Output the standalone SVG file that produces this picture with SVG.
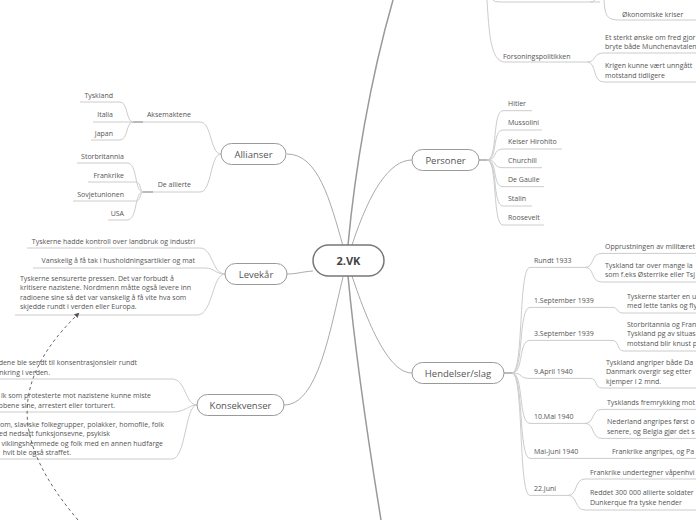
<svg xmlns="http://www.w3.org/2000/svg" width="696" height="520" viewBox="0 0 696 520">
<defs>
<style>
.t{font-family:"Open Sans","Liberation Sans",sans-serif;font-size:7px;fill:#555}
.e{text-anchor:end}
.n{font-family:"Open Sans","Liberation Sans",sans-serif;font-size:9.5px;fill:#555;text-anchor:middle}
.box{fill:#fff;stroke:#999;stroke-width:1}
.c{fill:none;stroke:#ccc;stroke-width:1}
.j{fill:none;stroke:#aaa;stroke-width:1.6}
.m{fill:none;stroke:#aaa;stroke-width:1}
.big{fill:none;stroke:#999;stroke-width:1.5}
.rel{fill:none;stroke:#666;stroke-width:1;stroke-dasharray:3 3}
</style>
<marker id="arr" viewBox="0 0 10 10" refX="9" refY="5" markerWidth="5" markerHeight="5" orient="auto">
<path d="M0,0 L10,5 L0,10 z" fill="#555"/>
</marker>
</defs>
<rect width="696" height="520" fill="#fff"/>
<g id="connectors">
<path class="big" d="M348,245 C355,170 370,80 393,0"/>
<path class="big" d="M348,276 C355,350 368,440 381,520"/>
<path class="m" d="M343,246 C330,200 318,154 287,154"/>
<path class="m" d="M352,245 C370,190 390,160 412,160"/>
<path class="m" d="M313,271 C300,272 297,274 287,274"/>
<path class="m" d="M343,277 C330,330 318,405 284,405"/>
<path class="m" d="M352,276 C370,330 390,373 412,373"/>
<path class="c" d="M487,0 C489,30 490,62 505,62 H587"/>
<path class="c" d="M493,0 Q494,2 500,2 H600"/>
<path class="c" d="M590,2 Q594,2 595,0"/>
<path class="c" d="M604,0 C605,14 606,20 618,20 H696"/>
<path class="c" d="M587,62 C597,62 592,53 604,53 H696"/>
<path class="c" d="M587,62 C597,62 592,82 604,82 H696"/>
<path class="c" d="M221,154 C210,154 212,122 200,122 H143"/>
<path class="c" d="M221,154 C210,154 212,192 200,192 H153"/>
<path class="j" d="M133,122 H143"/>
<path class="j" d="M143,192 H153"/>
<path class="c" d="M133,122 C126,122 128,102 120,102 H80"/>
<path class="c" d="M133,122 H93"/>
<path class="c" d="M133,122 C126,122 128,140 120,140 H91"/>
<path class="c" d="M143,192 C134,192 138,163 127,163 H77"/>
<path class="c" d="M143,192 C140,192 141,182 136,182 H88"/>
<path class="c" d="M143,192 C140,192 141,201 136,201 H73"/>
<path class="c" d="M143,192 C134,192 138,220 127,220 H108"/>
<path class="c" d="M225,274 C212,274 213,248 200,248 H27"/>
<path class="c" d="M225,274 C215,274 215,268 205,268 H33"/>
<path class="c" d="M225,274 C212,274 213,315 197,315 H15"/>
<path class="c" d="M197,405 C185,405 186,379 172,379 H0"/>
<path class="c" d="M197,405 C188,405 186,412 172,412 H0"/>
<path class="c" d="M197,405 C185,405 186,459 172,459 H0"/>
<path class="j" d="M479,160 H487"/>
<path class="c" d="M487,160 C498,160 492,110.7 503,110.7 H532"/>
<path class="c" d="M487,160 C498,160 492,130 503,130 H542"/>
<path class="c" d="M487,160 C498,160 492,149 503,149 H562"/>
<path class="c" d="M487,160 C498,160 492,167.7 503,167.7 H542"/>
<path class="c" d="M487,160 C498,160 492,186.7 503,186.7 H544"/>
<path class="c" d="M487,160 C498,160 492,206 503,206 H532"/>
<path class="c" d="M487,160 C498,160 492,225 503,225 H544"/>
<path class="j" d="M504,373 H512"/>
<path class="c" d="M512,373 C524,373 518,267.4 530,267.4 H585"/>
<path class="c" d="M512,373 C524,373 518,307.4 530,307.4 H612"/>
<path class="c" d="M512,373 C524,373 518,340.4 530,340.4 H612"/>
<path class="c" d="M512,373 C524,373 518,378.4 530,378.4 H590"/>
<path class="c" d="M512,373 C524,373 518,423.4 530,423.4 H585"/>
<path class="c" d="M512,373 C524,373 518,458.4 530,458.4 H696"/>
<path class="c" d="M512,373 C524,373 518,495.4 530,495.4 H568"/>
<path class="c" d="M585,267.4 C595,267.4 590,253.4 602,253.4 H696"/>
<path class="c" d="M585,267.4 C595,267.4 590,282 602,282 H696"/>
<path class="c" d="M612,307.4 C619,307.4 616,313 623,313 H696"/>
<path class="c" d="M612,340.4 C620,340.4 616,351 624,351 H696"/>
<path class="c" d="M590,378.4 C598,378.4 594,388 602,388 H696"/>
<path class="c" d="M585,423.4 C595,423.4 591,409.4 602,409.4 H696"/>
<path class="c" d="M585,423.4 C595,423.4 591,438.4 602,438.4 H696"/>
<path class="c" d="M568,495.4 C578,495.4 574,479 585,479 H696"/>
<path class="c" d="M568,495.4 C578,495.4 574,510 585,510 H696"/>
<path class="rel" d="M78,520 C10,440 10,380 79,313" marker-end="url(#arr)"/>
</g>
<g id="center">
<rect x="313" y="245" width="71" height="31" rx="15.5" fill="#fff" stroke="#777" stroke-width="1.5"/>
<text x="348.5" y="264.5" class="n" style="font-size:11px;font-weight:bold;fill:#444">2.VK</text>
</g>
<g id="allianser">
<rect class="box" x="221" y="143.5" width="65" height="21" rx="10.5"/>
<text class="n" x="253.5" y="157.5">Allianser</text>
</g>
<g id="levekar">
<rect class="box" x="225" y="263.5" width="62" height="21" rx="10.5"/>
<text class="n" x="256" y="277.5">Levekår</text>
</g>
<g id="konsekvenser">
<rect class="box" x="197" y="394.5" width="87" height="21" rx="10.5"/>
<text class="n" x="240.5" y="408.5">Konsekvenser</text>
</g>
<g id="personer">
<rect class="box" x="412" y="149.5" width="67" height="21" rx="10.5"/>
<text class="n" x="445.5" y="163.5">Personer</text>
</g>
<g id="hendelser">
<rect class="box" x="412" y="362.5" width="92" height="21" rx="10.5"/>
<text class="n" x="458" y="376.5">Hendelser/slag</text>
</g>
<g id="top-items">
<text class="t" x="622" y="16.5">Økonomiske kriser</text>
<text class="t" x="503" y="58.5">Forsoningspolitikken</text>
<text class="t" x="605" y="39.5">Et sterkt ønske om fred gjor</text>
<text class="t" x="605" y="48.5">bryte både Munchenavtalen</text>
<text class="t" x="605" y="67.5">Krigen kunne vært unngått</text>
<text class="t" x="605" y="77.5">motstand tidligere</text>
</g>
<g id="allianser-items">
<text class="t" x="191" y="116.8" text-anchor="end">Aksemaktene</text>
<text class="t" x="191" y="186.8" text-anchor="end">De allierte</text>
<text class="t e" x="113" y="97.8">Tyskland</text>
<text class="t e" x="113" y="116.8">Italia</text>
<text class="t e" x="113" y="135.8">Japan</text>
<text class="t e" x="124" y="159.2">Storbritannia</text>
<text class="t e" x="124" y="178.2">Frankrike</text>
<text class="t e" x="124" y="197.2">Sovjetunionen</text>
<text class="t e" x="124" y="215.8">USA</text>
</g>
<g id="levekar-items">
<text class="t e" x="195" y="244.2">Tyskerne hadde kontroll over landbruk og industri</text>
<text class="t e" x="195" y="262.5">Vanskelig å få tak i husholdningsartikler og mat</text>
<text class="t" x="20" y="281">Tyskerne sensurerte pressen. Det var forbudt å</text>
<text class="t" x="20" y="290.4">kritisere nazistene. Nordmenn måtte også levere inn</text>
<text class="t" x="20" y="299.6">radioene sine så det var vanskelig å få vite hva som</text>
<text class="t" x="20" y="308.8">skjedde rundt i verden eller Europa.</text>
</g>
<g id="konsekvenser-items">
<text class="t e" x="137" y="365">dene ble sendt til konsentrasjonsleir rundt</text>
<text class="t e" x="50" y="375">nkring i verden.</text>
<text class="t e" x="151" y="397.5">lk som protesterte mot nazistene kunne miste</text>
<text class="t e" x="115" y="407.5">bbene sine, arrestert eller torturert.</text>
<text class="t" x="0" y="427">om, slaviske folkegrupper, polakker, homofile, folk</text>
<text class="t e" x="110" y="436">ed nedsatt funksjonsevne, psykisk</text>
<text class="t e" x="163" y="445.5">viklingshemmede og folk med en annen hudfarge</text>
<text class="t e" x="71" y="454.5">hvit ble også straffet.</text>
</g>
<g id="personer-items">
<text class="t" x="508" y="105.8">Hitler</text>
<text class="t" x="508" y="124.8">Mussolini</text>
<text class="t" x="508" y="144.2">Keiser Hirohito</text>
<text class="t" x="508" y="163.2">Churchill</text>
<text class="t" x="508" y="181.8">De Gaulle</text>
<text class="t" x="508" y="200.8">Stalin</text>
<text class="t" x="508" y="219.8">Roosevelt</text>
</g>
<g id="hendelser-items">
<text class="t" x="534" y="262.5">Rundt 1933</text>
<text class="t" x="534" y="302.5">1.September 1939</text>
<text class="t" x="534" y="335.5">3.September 1939</text>
<text class="t" x="534" y="373.5">9.April 1940</text>
<text class="t" x="534" y="418.5">10.Mai 1940</text>
<text class="t" x="534" y="453.5">Mai-Juni 1940</text>
<text class="t" x="534" y="490.5">22.Juni</text>
<text class="t" x="605" y="248.5">Opprustningen av militæret</text>
<text class="t" x="605" y="267.5">Tyskland tar over mange la</text>
<text class="t" x="605" y="276.5">som f.eks Østerrike eller Tsj</text>
<text class="t" x="627" y="298.5">Tyskerne starter en u</text>
<text class="t" x="627" y="307.5">med lette tanks og fly</text>
<text class="t" x="627" y="326.5">Storbritannia og Fran</text>
<text class="t" x="627" y="335.5">Tyskland pg av situas</text>
<text class="t" x="627" y="345.5">motstand blir knust p</text>
<text class="t" x="606" y="364.5">Tyskland angriper både Da</text>
<text class="t" x="606" y="373.5">Danmark overgir seg etter</text>
<text class="t" x="606" y="383.5">kjemper i 2 mnd.</text>
<text class="t" x="607" y="404.5">Tysklands fremrykking mot</text>
<text class="t" x="607" y="423.5">Nederland angripes først o</text>
<text class="t" x="607" y="433.5">senere, og Belgia gjør det s</text>
<text class="t" x="612" y="453.5">Frankrike angripes, og Pa</text>
<text class="t" x="590" y="474.5">Frankrike undertegner våpenhvi</text>
<text class="t" x="590" y="494.5">Reddet 300 000 allierte soldater</text>
<text class="t" x="590" y="504.5">Dunkerque fra tyske hender</text>
</g>
</svg>
